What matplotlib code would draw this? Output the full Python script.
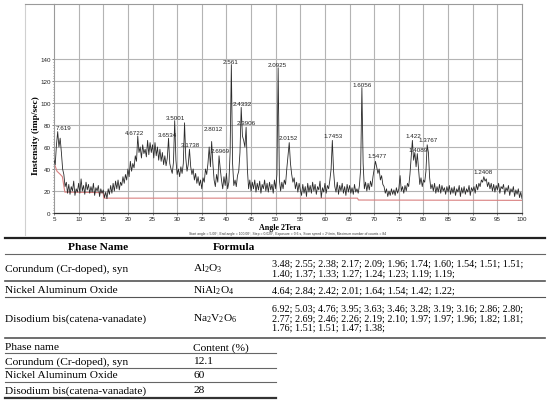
import numpy as np
import matplotlib
matplotlib.use("Agg")
import matplotlib.pyplot as plt
from matplotlib.lines import Line2D

# ---------------- data: XRD pattern (counts per 0.25 deg step, 5..100 deg) -------------
start_angle = 5.0
step_angle = 0.25
seg_05 = [48, 44, 62, 74, 60, 68, 55, 40, 35, 24, 28, 18, 26, 17, 24, 20, 29, 16, 22, 19,
          27, 18, 31, 20, 25, 17, 28, 21, 26, 18, 24, 19, 27, 16, 23, 20, 25, 15, 22, 18]
seg_15 = [21, 14, 19, 13, 22, 17, 25, 18, 27, 20, 29, 22, 30, 21, 28, 25, 33, 27, 35, 30,
          40, 33, 47, 38, 45, 41, 52, 47, 70, 55, 60, 50, 62, 54, 58, 51, 66, 53, 64, 55]
seg_25 = [62, 50, 64, 52, 60, 48, 58, 47, 55, 44, 52, 43, 50, 68, 45, 40, 36, 46, 84, 48,
          35, 40, 33, 42, 36, 45, 82, 50, 38, 44, 58, 42, 35, 40, 30, 36, 27, 33, 25, 30]
seg_35 = [22, 32, 28, 40, 35, 45, 60, 42, 65, 45, 30, 24, 35, 28, 52, 40, 30, 22, 33, 25,
          36, 22, 28, 55, 135, 45, 25, 30, 24, 34, 38, 55, 96, 70, 66, 60, 78, 40, 22, 30]
seg_45 = [20, 28, 22, 30, 19, 27, 21, 29, 18, 26, 22, 30, 20, 27, 19, 28, 21, 26, 18, 30,
          22, 35, 132, 30, 20, 28, 22, 30, 26, 40, 52, 64, 45, 35, 28, 32, 22, 28, 19, 27]
seg_55 = [21, 16, 26, 18, 24, 15, 27, 19, 25, 18, 28, 20, 26, 17, 24, 21, 29, 14, 23, 19,
          27, 18, 25, 22, 30, 40, 66, 38, 24, 19, 28, 17, 25, 20, 27, 18, 24, 16, 26, 19]
seg_65 = [25, 18, 23, 17, 26, 19, 22, 18, 25, 40, 114, 45, 22, 28, 20, 27, 21, 29, 24, 33,
          40, 47, 42, 36, 40, 30, 34, 26, 24, 18, 22, 15, 20, 16, 22, 17, 21, 16, 23, 18]
seg_75 = [22, 34, 20, 24, 18, 25, 20, 27, 24, 35, 50, 66, 48, 55, 42, 54, 40, 26, 32, 24,
          30, 28, 38, 62, 55, 32, 22, 26, 20, 27, 18, 24, 19, 26, 18, 25, 20, 23, 17, 24]
seg_85 = [19, 25, 17, 23, 18, 24, 16, 22, 19, 25, 15, 23, 18, 24, 17, 22, 19, 25, 16, 23,
          20, 24, 18, 26, 21, 27, 24, 30, 28, 33, 29, 31, 24, 28, 22, 27, 20, 26, 19, 25,
          21, 27, 18, 24, 22, 26, 17, 23, 20, 25, 16, 22, 19, 24, 15, 21, 17, 22, 14, 19, 13]

# background (red) line
bg_angle = [5.0, 5.6, 6.3, 6.7, 7.2, 15.0, 15.1, 66.6, 66.8, 100.0]
bg_counts = [46, 38, 35, 33, 19, 18.5, 13.5, 13.5, 11.8, 11.5]

# peak d-spacing labels
peak_labels = ["7.619", "4.6722", "3.6534", "3.5001", "3.1738", "2.8012", "2.6969", "2.561",
               "2.4332", "2.3906", "2.0925", "2.0152", "1.7453", "1.6056", "1.5477", "1.422",
               "1.4089", "1.3767", "1.2408"]
label_angle = [7.0, 21.4, 28.1, 29.6, 32.6, 37.3, 38.7, 40.8, 43.2, 44.0, 50.4, 52.6, 61.6,
               67.6, 70.6, 78.0, 78.9, 80.9, 92.1]
label_counts = [78, 73.5, 71, 87, 62, 77, 57, 138, 100, 82, 135, 69, 70, 117, 52, 70, 58, 67, 38]

x_ticks = list(range(5, 101, 5))
y_ticks = list(range(0, 141, 20))

# table data
phase_names = ["Corundum (Cr-doped), syn", "Nickel Aluminum Oxide", "Disodium bis(catena-vanadate)"]
formulas = [r"$\mathregular{Al_2O_3}$", r"$\mathregular{NiAl_2O_4}$", r"$\mathregular{Na_2V_2O_6}$"]
d_values = [
    ["3.48; 2.55; 2.38; 2.17; 2.09; 1.96; 1.74; 1.60; 1.54; 1.51; 1.51;",
     "1.40; 1.37; 1.33; 1.27; 1.24; 1.23; 1.19; 1.19;"],
    ["4.64; 2.84; 2.42; 2.01; 1.64; 1.54; 1.42; 1.22;"],
    ["6.92; 5.03; 4.76; 3.95; 3.63; 3.46; 3.28; 3.19; 3.16; 2.86; 2.80;",
     "2.77; 2.69; 2.46; 2.26; 2.19; 2.10; 1.97; 1.97; 1.96; 1.82; 1.81;",
     "1.76; 1.51; 1.51; 1.47; 1.38;"],
]
content_pct = ["12.1", "60", "28"]

# ---------------------------------------------------------------------------
counts = np.array(seg_05 + seg_15 + seg_25 + seg_35 + seg_45 + seg_55 + seg_65 + seg_75 + seg_85,
                  dtype=float)
angles = start_angle + step_angle * np.arange(len(counts))

W, H = 550, 402
fig = plt.figure(figsize=(W / 100, H / 100), dpi=100)
fig.patch.set_facecolor("white")


def fx(px):
    return px / W


def fy(py):
    return 1 - py / H


ax_l, ax_r, ax_t, ax_b = 54, 522, 4.5, 214
ax = fig.add_axes([fx(ax_l), fy(ax_b), fx(ax_r - ax_l), (ax_b - ax_t) / H])
ax.set_xlim(5, 100)
ax.set_ylim(0, (ax_b - ax_t) / 1.1)

grid_c = "#b4b4b4"
for xv in x_ticks[1:-1]:
    ax.axvline(xv, color=grid_c, lw=0.8, zorder=0)
for yv in y_ticks[1:]:
    ax.axhline(yv, color=grid_c, lw=0.8, zorder=0)

ax.plot(bg_angle, bg_counts, color="#d98080", lw=0.8, zorder=2)
ax.plot(angles, counts, color="#2a2a2a", lw=0.6, zorder=3)

for lab, xa, ya in zip(peak_labels, label_angle, label_counts):
    ax.text(xa, ya, lab, ha="center", va="center", fontsize=4.5,
            family="Liberation Sans", color="#222222", zorder=4)

ax.set_xticks(x_ticks)
ax.set_yticks(y_ticks)
ax.set_yticks(np.arange(0, 141, 2.5), minor=True)
ax.tick_params(axis="both", which="major", labelsize=4.5, length=1.5, pad=1.0,
               colors="#555555", labelcolor="#222222", width=0.5)
ax.tick_params(axis="y", which="minor", length=1.0, width=0.5, colors="#777777")
for lab in ax.get_xticklabels() + ax.get_yticklabels():
    lab.set_family("Liberation Sans")

for s in ["top", "right", "left"]:
    ax.spines[s].set_color("#9a9a9a")
    ax.spines[s].set_linewidth(0.8)
ax.spines["bottom"].set_color("#333333")
ax.spines["bottom"].set_linewidth(0.9)

# frame line on the left of the chart image
fig.add_artist(Line2D([fx(24.5), fx(24.5)], [fy(4.5), fy(236)], color="#d0d0d0", lw=0.8))
fig.add_artist(Line2D([fx(24.5), fx(ax_l)], [fy(4.5), fy(4.5)], color="#9a9a9a", lw=0.8))

fig.text(fx(36), fy(136), "Instensity (imp/sec)", rotation=90, ha="center", va="center",
         fontsize=6.8, fontweight="bold", family="Liberation Serif")
fig.text(fx(280), fy(228.5), "Angle 2Tera", ha="center", va="center",
         fontsize=5.8, fontweight="bold", family="Liberation Serif")
fig.text(fx(288), fy(234.5),
         "Start angle = 5.00°, End angle = 100.00°, Step = 0.020°, Exposure = 0.6 s, "
         "Scan speed = 2°/min, Maximum number of counts = 84",
         ha="center", va="center", fontsize=2.4, family="Liberation Sans", color="#333333")

# ---------------- table ----------------
serif = "Liberation Serif"
name_fs = 8.2
num_fs = 7.3
col1, col2, col3 = 5, 193, 272
full_r, short_r = 545, 276


def hline(y, x0, x1, lw, c):
    fig.add_artist(Line2D([fx(x0), fx(x1)], [fy(y), fy(y)], color=c, lw=lw))


hline(239, col1, full_r, 1.6, "#222222")
fig.text(fx(98.5), fy(248), "Phase Name", ha="center", va="center", fontsize=name_fs,
         fontweight="bold", family=serif)
fig.text(fx(234), fy(248), "Formula", ha="center", va="center", fontsize=name_fs,
         fontweight="bold", family=serif)
hline(255, col1, full_r, 0.8, "#666666")

row_centers = [269, 291, 319]
row_bottoms = [282, 298, 339]
row_widths = [1.2, 0.8, 1.2]
line_gap = 9.5
for name, form, dl, yc, yb, lw in zip(phase_names, formulas, d_values, row_centers,
                                      row_bottoms, row_widths):
    fig.text(fx(col1), fy(yc), name, ha="left", va="center", fontsize=name_fs, family=serif)
    fig.text(fx(col2), fy(yc), form, ha="left", va="center", fontsize=name_fs, family=serif)
    n = len(dl)
    for i, line in enumerate(dl):
        yy = yc + (i - (n - 1) / 2) * line_gap
        fig.text(fx(col3), fy(yy), line, ha="left", va="center", fontsize=num_fs, family=serif)
    hline(yb, col1, full_r, lw, "#555555")

fig.text(fx(col1), fy(348), "Phase name", ha="left", va="center", fontsize=name_fs, family=serif)
fig.text(fx(col2), fy(348), "Content (%)", ha="left", va="center", fontsize=name_fs, family=serif)
hline(354, col1, short_r, 0.8, "#666666")
content_rows = [362, 376, 391]
content_lines = [369, 383, 399]
for name, pct, yc, yl in zip(phase_names, content_pct, content_rows, content_lines):
    fig.text(fx(col1), fy(yc), name, ha="left", va="center", fontsize=name_fs, family=serif)
    fig.text(fx(col2), fy(yc), pct, ha="left", va="center", fontsize=name_fs, family=serif)
    if yl == content_lines[-1]:
        hline(yl, col1, short_r, 1.6, "#333333")
    else:
        hline(yl, col1, short_r, 0.8, "#666666")

fig.savefig("out.png", dpi=100, facecolor="white")
